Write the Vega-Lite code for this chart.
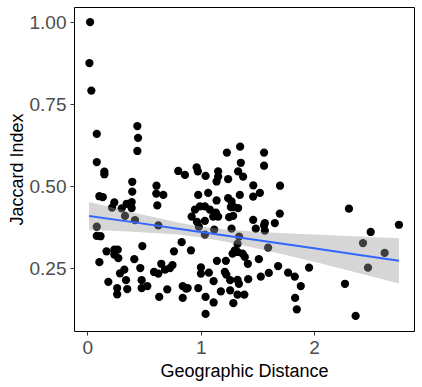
{
  "$schema": "https://vega.github.io/schema/vega-lite/v6.json",
  "width": 340,
  "height": 324,
  "autosize": "none",
  "padding": {"left": 74, "top": 7, "right": 8, "bottom": 56},
  "background": "white",
  "datasets": {
    "pts": [
      {"d":0.024,"j":1.000},{"d":0.018,"j":0.875},{"d":0.035,"j":0.791},{"d":0.083,"j":0.659},{"d":0.083,"j":0.573},
      {"d":0.150,"j":0.544},{"d":0.150,"j":0.536},{"d":0.441,"j":0.683},{"d":0.447,"j":0.647},{"d":0.441,"j":0.607},
      {"d":0.396,"j":0.513},{"d":0.396,"j":0.483},{"d":0.610,"j":0.501},{"d":0.802,"j":0.546},{"d":0.106,"j":0.469},
      {"d":0.136,"j":0.466},{"d":0.608,"j":0.477},{"d":0.670,"j":0.473},{"d":0.238,"j":0.450},{"d":0.391,"j":0.451},
      {"d":0.391,"j":0.433},{"d":0.303,"j":0.432},{"d":0.347,"j":0.446},{"d":0.617,"j":0.441},{"d":0.332,"j":0.409},
      {"d":0.420,"j":0.396},{"d":0.083,"j":0.376},{"d":0.626,"j":0.380},{"d":0.083,"j":0.348},{"d":0.116,"j":0.347},
      {"d":0.169,"j":0.301},{"d":0.238,"j":0.306},{"d":0.268,"j":0.306},{"d":0.238,"j":0.291},{"d":0.273,"j":0.280},
      {"d":0.106,"j":0.268},{"d":0.485,"j":0.317},{"d":0.414,"j":0.277},{"d":0.467,"j":0.250},{"d":0.326,"j":0.245},
      {"d":0.288,"j":0.234},{"d":0.341,"j":0.213},{"d":0.185,"j":0.208},{"d":0.263,"j":0.189},{"d":0.263,"j":0.170},
      {"d":0.352,"j":0.186},{"d":0.479,"j":0.213},{"d":0.479,"j":0.189},{"d":0.529,"j":0.195},{"d":0.588,"j":0.238},
      {"d":0.626,"j":0.233},{"d":0.652,"j":0.263},{"d":0.685,"j":0.245},{"d":0.729,"j":0.250},{"d":0.751,"j":0.259},
      {"d":0.832,"j":0.329},{"d":0.764,"j":0.301},{"d":0.705,"j":0.185},{"d":0.634,"j":0.162},{"d":0.841,"j":0.195},
      {"d":0.841,"j":0.159},{"d":0.872,"j":0.187},{"d":0.861,"j":0.534},{"d":1.348,"j":0.620},{"d":1.231,"j":0.602},
      {"d":1.559,"j":0.602},{"d":1.559,"j":0.562},{"d":1.354,"j":0.571},{"d":1.330,"j":0.545},{"d":1.374,"j":0.529},
      {"d":0.964,"j":0.557},{"d":0.975,"j":0.545},{"d":1.043,"j":0.531},{"d":1.154,"j":0.545},{"d":1.154,"j":0.529},
      {"d":1.140,"j":0.514},{"d":1.242,"j":0.521},{"d":1.464,"j":0.502},{"d":1.522,"j":0.479},{"d":1.463,"j":0.468},
      {"d":1.700,"j":0.501},{"d":0.978,"j":0.473},{"d":1.066,"j":0.479},{"d":1.140,"j":0.456},{"d":1.242,"j":0.463},
      {"d":1.272,"j":0.453},{"d":1.345,"j":0.473},{"d":1.330,"j":0.433},{"d":1.286,"j":0.409},{"d":0.920,"j":0.407},
      {"d":0.949,"j":0.428},{"d":0.993,"j":0.438},{"d":1.037,"j":0.438},{"d":1.081,"j":0.428},{"d":1.110,"j":0.407},
      {"d":1.037,"j":0.394},{"d":0.967,"j":0.391},{"d":1.154,"j":0.407},{"d":1.463,"j":0.397},{"d":1.566,"j":0.387},
      {"d":1.654,"j":0.387},{"d":1.698,"j":0.416},{"d":1.134,"j":0.419},{"d":1.266,"j":0.436},{"d":1.295,"j":0.436},
      {"d":1.251,"j":0.405},{"d":1.486,"j":0.370},{"d":1.559,"j":0.380},{"d":1.566,"j":0.364},{"d":1.119,"j":0.367},
      {"d":1.272,"j":0.370},{"d":1.339,"j":0.346},{"d":1.325,"j":0.324},{"d":1.301,"j":0.304},{"d":1.281,"j":0.294},
      {"d":1.325,"j":0.299},{"d":1.369,"j":0.294},{"d":1.389,"j":0.284},{"d":1.416,"j":0.263},{"d":1.513,"j":0.277},
      {"d":1.595,"j":0.312},{"d":1.143,"j":0.272},{"d":1.222,"j":0.272},{"d":1.072,"j":0.236},{"d":1.213,"j":0.238},
      {"d":1.226,"j":0.230},{"d":1.114,"j":0.210},{"d":1.260,"j":0.213},{"d":1.325,"j":0.214},{"d":1.337,"j":0.202},
      {"d":1.419,"j":0.216},{"d":1.530,"j":0.224},{"d":1.601,"j":0.235},{"d":1.683,"j":0.256},{"d":1.771,"j":0.236},
      {"d":1.830,"j":0.224},{"d":1.178,"j":0.179},{"d":1.260,"j":0.182},{"d":1.325,"j":0.169},{"d":1.385,"j":0.169},
      {"d":1.288,"j":0.143},{"d":1.114,"j":0.145},{"d":1.043,"j":0.162},{"d":1.043,"j":0.110},{"d":1.002,"j":0.252},
      {"d":1.002,"j":0.233},{"d":0.914,"j":0.304},{"d":0.885,"j":0.189},{"d":0.978,"j":0.189},{"d":0.984,"j":0.376},
      {"d":1.037,"j":0.352},{"d":2.308,"j":0.431},{"d":2.500,"j":0.360},{"d":2.749,"j":0.382},{"d":2.432,"j":0.326},
      {"d":2.623,"j":0.296},{"d":2.476,"j":0.251},{"d":2.273,"j":0.202},{"d":2.367,"j":0.104},{"d":1.956,"j":0.251},
      {"d":1.883,"j":0.195},{"d":1.833,"j":0.159},{"d":1.848,"j":0.124},{"d":0.218,"j":0.434}
    ],
    "band": [
      {"d":0.015,"fit":0.409,"lo":0.367,"hi":0.451},
      {"d":0.4,"fit":0.390,"lo":0.361,"hi":0.419},
      {"d":0.8,"fit":0.370,"lo":0.352,"hi":0.389},
      {"d":1.0,"fit":0.360,"lo":0.343,"hi":0.377},
      {"d":1.2,"fit":0.350,"lo":0.332,"hi":0.368},
      {"d":1.6,"fit":0.330,"lo":0.302,"hi":0.358},
      {"d":2.0,"fit":0.310,"lo":0.269,"hi":0.352},
      {"d":2.4,"fit":0.290,"lo":0.234,"hi":0.346},
      {"d":2.749,"fit":0.272,"lo":0.203,"hi":0.341}
    ]
  },
  "encoding": {
    "x": {"field": "d", "type": "quantitative",
      "scale": {"domain": [-0.118, 2.882], "nice": false, "zero": false},
      "axis": {"values": [0, 1, 2], "title": "Geographic Distance", "labelPadding": 3, "titlePadding": 5}}
  },
  "layer": [
    {
      "data": {"name": "pts"},
      "mark": {"type": "circle", "color": "black", "opacity": 1, "size": 68},
      "encoding": {
        "y": {"field": "j", "type": "quantitative",
          "scale": {"domain": [0.058, 1.046], "nice": false, "zero": false},
          "axis": {"values": [0.25, 0.5, 0.75, 1.0], "format": ".2f", "title": "Jaccard Index", "labelPadding": 4, "titlePadding": 3}}
      }
    },
    {
      "data": {"name": "band"},
      "mark": {"type": "area", "color": "#999999", "opacity": 0.4},
      "encoding": {
        "y": {"field": "lo", "type": "quantitative"},
        "y2": {"field": "hi"}
      }
    },
    {
      "data": {"name": "band"},
      "mark": {"type": "line", "color": "#3366FF", "strokeWidth": 2},
      "encoding": {
        "y": {"field": "fit", "type": "quantitative"}
      }
    }
  ],
  "config": {
    "view": {"stroke": "black", "strokeWidth": 1},
    "axis": {
      "grid": false, "domain": false,
      "tickColor": "#333333", "tickSize": 4,
      "labelColor": "#4D4D4D", "labelFont": "Liberation Sans", "labelFontSize": 19,
      "titleFont": "Liberation Sans", "titleFontSize": 18, "titleFontWeight": "normal", "titleColor": "black"
    }
  }
}
